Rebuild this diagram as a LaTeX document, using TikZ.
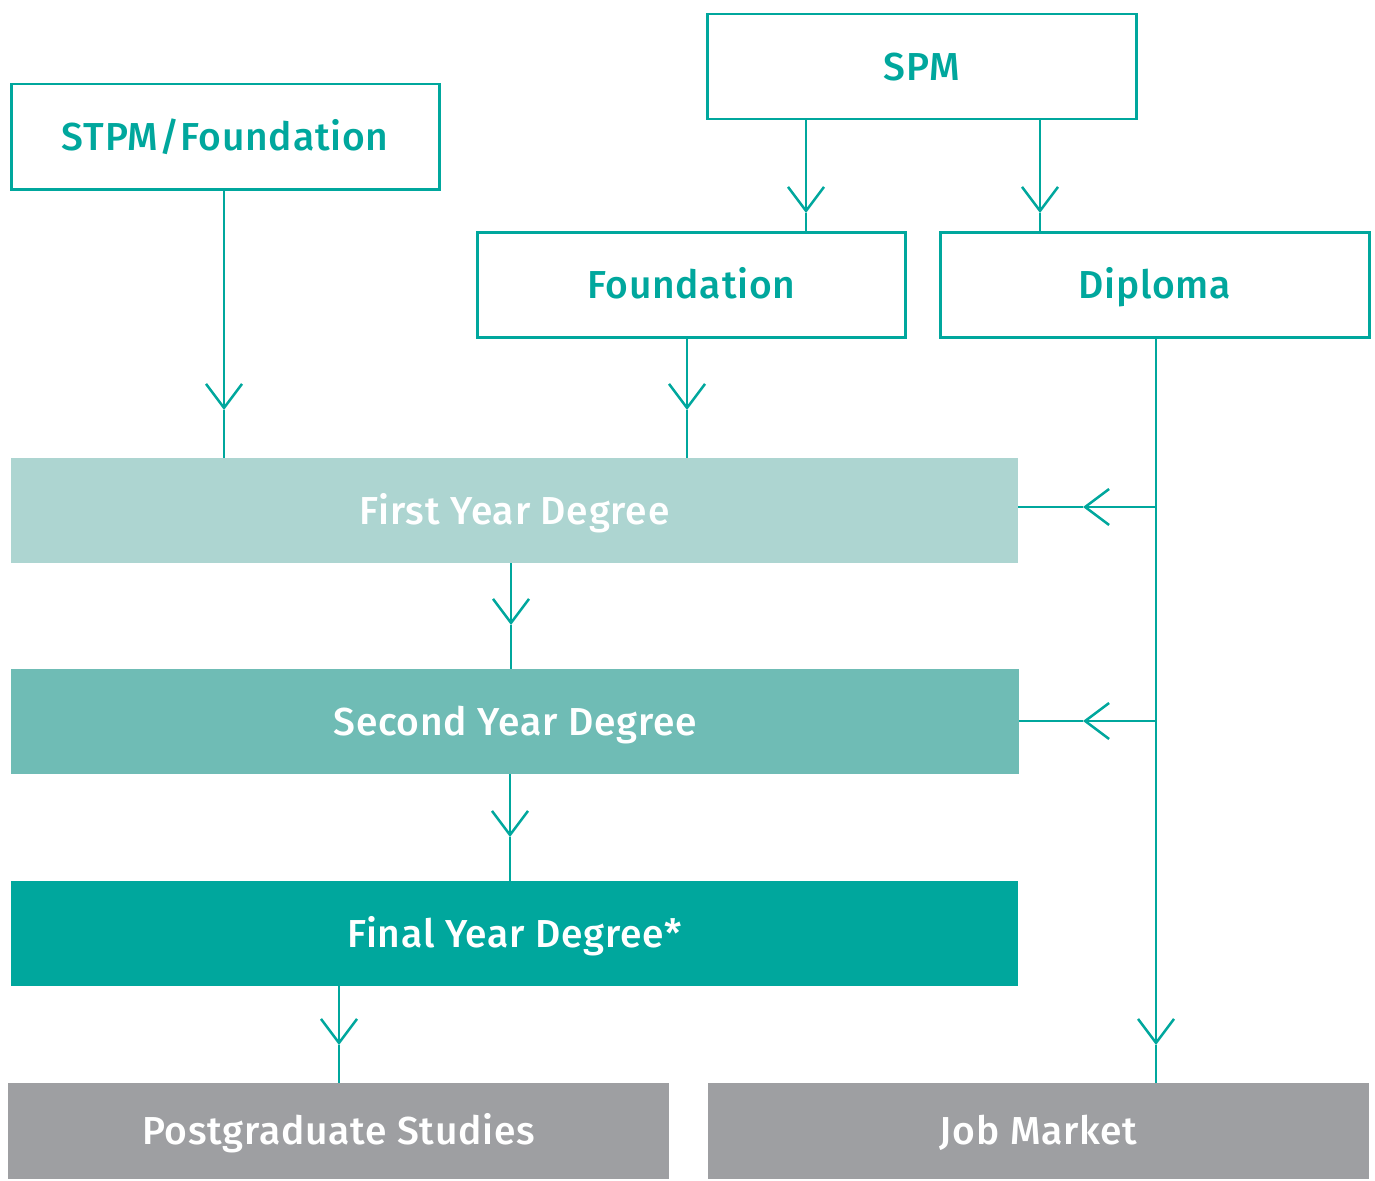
\documentclass[tikz,border=0pt]{standalone}
\usepackage{fontspec}
\setmainfont{Fira Sans Medium}[LetterSpace=2]
\usetikzlibrary{arrows.meta}
\definecolor{teal1}{HTML}{00A79D}
\definecolor{lt}{HTML}{ADD5D1}
\definecolor{md}{HTML}{6FBCB5}
\definecolor{gr}{HTML}{9E9FA2}
\tikzset{
  txt/.style={font=\fontsize{39}{46}\selectfont, text height=27pt, text depth=0pt},
  obox/.style={txt, draw=teal1, line width=2.5pt, fill=white, text=teal1, anchor=north west, inner sep=0pt, minimum height=105pt},
  fbox/.style={txt, anchor=north west, inner sep=0pt, draw=none, text=white, minimum height=105pt},
  conn/.style={draw=teal1, line width=2.5pt},
  chev/.style={conn, -{Straight Barb[length=24pt,width=36pt,line width=2.5pt]}}
}
\begin{document}
\begin{tikzpicture}[x=1pt,y=-1pt]
\useasboundingbox (0,0) rectangle (1375,1180);
\node[obox, minimum width=428pt] (stpm) at (10,83) {STPM/Foundation};
\node[obox, minimum width=429pt] (spm) at (706,13) {SPM};
\node[obox, minimum width=428pt] (fnd) at (476,231) {Foundation};
\node[obox, minimum width=429pt] (dip) at (939,231) {Diploma};
\node[fbox, fill=lt, minimum width=1007pt] (y1) at (11,458) {First Year Degree};
\node[fbox, fill=md, minimum width=1008pt] (y2) at (11,669) {Second Year Degree};
\node[fbox, fill=teal1, minimum width=1007pt] (y3) at (11,881) {Final Year Degree*};
\node[fbox, fill=gr, minimum width=661pt, minimum height=96pt] (pg) at (8,1083) {Postgraduate Studies};
\node[fbox, fill=gr, minimum width=661pt, minimum height=96pt] (job) at (708,1083) {Job Market};
% chevron tip coordinates
\coordinate (c1) at (224,410);
\coordinate (c2) at (687,410);
\coordinate (c3) at (806,213);
\coordinate (c4) at (1040,213);
\coordinate (c5) at (1156,1045);
\coordinate (c6) at (1083,507);
\coordinate (c7) at (1083,721);
\coordinate (c8) at (511,625);
\coordinate (c9) at (510,837);
\coordinate (c10) at (339,1045);
\coordinate (j1) at (1156,507);
\coordinate (j2) at (1156,721);
% connectors
\draw[chev] (stpm.south -| c1) -- (c1);
\draw[conn] (c1) -- (y1.north -| c1);
\draw[chev] (fnd.south -| c2) -- (c2);
\draw[conn] (c2) -- (y1.north -| c2);
\draw[chev] (spm.south -| c3) -- (c3);
\draw[conn] (c3) -- (fnd.north -| c3);
\draw[chev] (spm.south -| c4) -- (c4);
\draw[conn] (c4) -- (dip.north -| c4);
\draw[chev] (dip.south -| c5) -- (c5);
\draw[conn] (c5) -- (job.north -| c5);
\draw[chev] (j1) -- (c6);
\draw[conn] (c6) -- (y1.east |- c6);
\draw[chev] (j2) -- (c7);
\draw[conn] (c7) -- (y2.east |- c7);
\draw[chev] (y1.south -| c8) -- (c8);
\draw[conn] (c8) -- (y2.north -| c8);
\draw[chev] (y2.south -| c9) -- (c9);
\draw[conn] (c9) -- (y3.north -| c9);
\draw[chev] (y3.south -| c10) -- (c10);
\draw[conn] (c10) -- (pg.north -| c10);
\end{tikzpicture}
\end{document}
